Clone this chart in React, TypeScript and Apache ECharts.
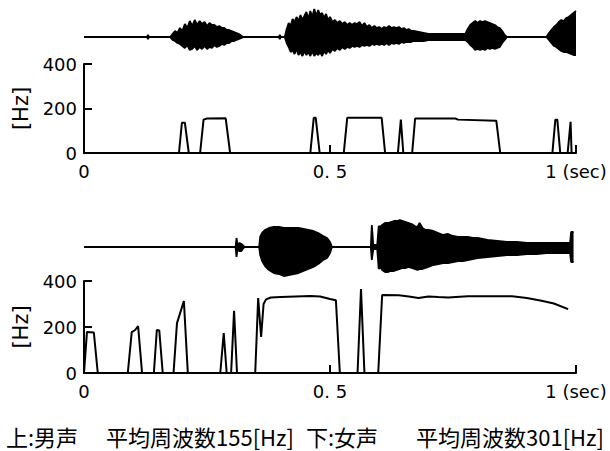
import React, { useEffect, useRef } from "react";
import * as echarts from "echarts";

// time (sec), upper amplitude, lower amplitude (waveform envelope, px-like units)
const maleWave: [number, number, number][] = [
  [0, 0, 0], [0.128, 0, 0], [0.13, 2, 2], [0.132, 0, 0], [0.175, 0, 0],
  [0.18, 3, 3], [0.185, 6, 4], [0.19, 4, 6], [0.195, 9, 7], [0.2, 6, 9],
  [0.205, 13, 11], [0.21, 9, 8], [0.215, 16, 13], [0.22, 11, 12], [0.225, 17, 9],
  [0.23, 12, 13], [0.235, 16, 10], [0.24, 13, 12], [0.245, 15, 9], [0.25, 11, 12],
  [0.255, 14, 10], [0.26, 12, 11], [0.265, 12, 8], [0.27, 10, 10], [0.275, 11, 9],
  [0.28, 9, 7], [0.285, 9, 8], [0.29, 7, 6], [0.295, 7, 6], [0.3, 6, 4],
  [0.305, 5, 4], [0.31, 4, 3], [0.315, 3, 2], [0.32, 1, 1], [0.325, 0, 0],
  [0.396, 0, 0], [0.398, 2, 2], [0.4, 0, 0], [0.408, 0, 0],
  [0.412, 8, 6], [0.416, 14, 10], [0.42, 11, 15], [0.424, 18, 13], [0.428, 15, 17],
  [0.432, 20, 12], [0.436, 16, 18], [0.44, 22, 15], [0.444, 17, 19], [0.448, 21, 14],
  [0.452, 25, 18], [0.456, 18, 15], [0.46, 26, 19], [0.464, 20, 14], [0.468, 28, 19],
  [0.472, 21, 16], [0.476, 27, 18], [0.48, 22, 15], [0.484, 24, 19], [0.488, 19, 14],
  [0.492, 23, 17], [0.496, 17, 13], [0.5, 20, 16], [0.505, 15, 12], [0.51, 17, 14],
  [0.515, 14, 11], [0.52, 16, 13], [0.525, 13, 10], [0.53, 15, 12], [0.535, 12, 10],
  [0.54, 14, 11], [0.545, 12, 9], [0.55, 14, 10], [0.555, 13, 9], [0.56, 15, 10],
  [0.565, 11, 8], [0.57, 14, 9], [0.575, 10, 8], [0.58, 12, 9], [0.585, 9, 7],
  [0.59, 11, 8], [0.595, 9, 7], [0.6, 10, 8], [0.605, 8, 7], [0.61, 10, 8],
  [0.615, 9, 6], [0.62, 11, 8], [0.625, 9, 6], [0.63, 10, 7], [0.635, 9, 6],
  [0.64, 10, 7], [0.645, 8, 5], [0.65, 9, 6], [0.655, 7, 5], [0.66, 8, 5],
  [0.665, 6, 5], [0.67, 6, 4], [0.68, 5, 4], [0.69, 4, 4], [0.7, 3, 3],
  [0.72, 3, 3], [0.74, 3, 3], [0.76, 3, 3], [0.775, 3, 3],
  [0.78, 8, 5], [0.785, 12, 8], [0.79, 14, 10], [0.795, 16, 13], [0.8, 14, 12],
  [0.805, 16, 13], [0.81, 15, 12], [0.815, 16, 13], [0.82, 15, 11], [0.825, 14, 12],
  [0.83, 13, 11], [0.835, 12, 12], [0.84, 10, 11], [0.845, 9, 10], [0.85, 6, 6],
  [0.855, 2, 3], [0.86, 0, 0], [0.94, 0, 0],
  [0.945, 4, 3], [0.95, 7, 6], [0.955, 10, 9], [0.96, 12, 10], [0.965, 15, 12],
  [0.97, 17, 14], [0.975, 16, 15], [0.98, 19, 15], [0.985, 20, 16], [0.99, 22, 17],
  [0.995, 24, 18], [1.0, 26, 18],
];

const femaleWave: [number, number, number][] = [
  [0, 0, 0], [0.308, 0, 0], [0.31, 9, 10], [0.312, 2, 2], [0.316, 4, 4],
  [0.32, 3, 4], [0.324, 1, 1], [0.328, 0, 0], [0.356, 0, 0],
  [0.358, 10, 8], [0.362, 14, 14], [0.368, 17, 19], [0.376, 19, 23], [0.386, 20, 26],
  [0.396, 20, 27], [0.406, 19, 29], [0.416, 19, 28], [0.426, 19, 27], [0.436, 19, 26],
  [0.446, 18, 24], [0.456, 17, 22], [0.466, 16, 20], [0.476, 14, 17], [0.486, 11, 13],
  [0.494, 9, 11], [0.5, 5, 6], [0.504, 0, 0], [0.583, 0, 0],
  [0.585, 22, 13], [0.588, 2, 2], [0.596, 2, 2], [0.599, 21, 22],
  [0.602, 20, 20], [0.606, 22, 23], [0.612, 24, 25], [0.618, 24, 25], [0.624, 25, 24],
  [0.63, 26, 24], [0.636, 26, 23], [0.642, 27, 22], [0.648, 26, 21], [0.654, 25, 21],
  [0.66, 24, 20], [0.666, 23, 21], [0.672, 21, 22], [0.678, 20, 23], [0.682, 24, 22],
  [0.688, 19, 22], [0.694, 17, 21], [0.7, 17, 20], [0.71, 16, 18], [0.72, 14, 17],
  [0.73, 12, 16], [0.74, 13, 16], [0.75, 11, 15], [0.76, 10, 14], [0.77, 10, 14],
  [0.78, 10, 13], [0.79, 9, 12], [0.8, 9, 11], [0.82, 7, 10], [0.84, 6, 9],
  [0.86, 5, 8], [0.88, 5, 8], [0.9, 4, 7], [0.92, 4, 7], [0.94, 4, 6],
  [0.96, 4, 6], [0.98, 4, 6], [0.988, 4, 6], [0.99, 15, 15], [0.995, 15, 15],
];

// time (sec), fundamental frequency (Hz)
const malePitch: [number, number][] = [
  [0, 0], [0.193, 0], [0.199, 136], [0.205, 136], [0.213, 0],
  [0.236, 0], [0.243, 150], [0.25, 155], [0.288, 156], [0.297, 0],
  [0.46, 0], [0.467, 158], [0.471, 158], [0.479, 0],
  [0.528, 0], [0.535, 158], [0.605, 158], [0.612, 0],
  [0.638, 0], [0.644, 150], [0.649, 0],
  [0.667, 0], [0.673, 155], [0.755, 155], [0.76, 150], [0.838, 145], [0.846, 0],
  [0.952, 0], [0.958, 150], [0.962, 150], [0.968, 0],
  [0.983, 0], [0.989, 140], [0.991, 0], [1, 0],
];

const femalePitch: [number, number][] = [
  [0, 0], [0.006, 178], [0.02, 176], [0.028, 0],
  [0.089, 0], [0.097, 178], [0.104, 187], [0.11, 204], [0.118, 0],
  [0.142, 0], [0.148, 187], [0.153, 185], [0.16, 0],
  [0.182, 0], [0.189, 217], [0.203, 313], [0.211, 0],
  [0.277, 0], [0.284, 174], [0.29, 0],
  [0.299, 0], [0.305, 270], [0.311, 0],
  [0.348, 0], [0.354, 326], [0.36, 157], [0.365, 300], [0.37, 320], [0.38, 328],
  [0.4, 330], [0.43, 333], [0.46, 335], [0.48, 333], [0.5, 322], [0.512, 316], [0.52, 0],
  [0.556, 0], [0.563, 365], [0.57, 0],
  [0.598, 0], [0.606, 339], [0.64, 338], [0.66, 333], [0.68, 326], [0.7, 333],
  [0.72, 330], [0.74, 328], [0.78, 334], [0.82, 334], [0.87, 334], [0.9, 326],
  [0.93, 314], [0.955, 302], [0.984, 278],
];

const xTicks = [0, 0.5, 1];
const xTickLabels = ["0", "0. 5", "1 (sec)"];
const yTicks = [0, 200, 400];

const captionParts = ["上:男声", "平均周波数155[Hz]", "下:女声", "平均周波数301[Hz]"];

const FONT = "DejaVu Sans";

export default function App() {
  const ref = useRef<HTMLDivElement>(null);
  useEffect(() => {
    if (!ref.current) return;
    const chart = echarts.init(ref.current, undefined, { renderer: "svg" });
    const L = 84, R = 34;
    const grids = [
      { left: L, right: R, top: 7, height: 60 },
      { left: L, right: R, top: 64, height: 89 },
      { left: L, right: R, top: 217, height: 60 },
      { left: L, right: R, top: 281, height: 92 },
    ];
    const waveX = (i: number) => ({ type: "value", gridIndex: i, min: 0, max: 1, show: false });
    const pitchX = (i: number) => ({
      type: "value", gridIndex: i, min: 0, max: 1, interval: 0.5,
      axisLine: { lineStyle: { color: "#000", width: 2 } },
      axisTick: { inside: true, length: 8, lineStyle: { color: "#000", width: 2 } },
      splitLine: { show: false },
      axisLabel: {
        margin: 9, color: "#000", fontFamily: FONT, fontSize: 18,
        formatter: (v: number) => {
          const k = xTicks.findIndex((t) => Math.abs(t - v) < 1e-9);
          return k >= 0 ? xTickLabels[k] : "";
        },
      },
    });
    const waveY = (i: number) => ({ type: "value", gridIndex: i, min: -30, max: 30, show: false });
    const pitchY = (i: number) => ({
      type: "value", gridIndex: i, min: yTicks[0], max: yTicks[2], interval: 200,
      axisLine: { show: true, lineStyle: { color: "#000", width: 2 } },
      axisTick: { show: true, inside: true, length: 8, lineStyle: { color: "#000", width: 2 } },
      splitLine: { show: false },
      axisLabel: { margin: 7, color: "#000", fontFamily: FONT, fontSize: 18 },
      name: "[Hz]", nameLocation: "middle", nameGap: 52, nameRotate: 90,
      nameTextStyle: { color: "#000", fontFamily: FONT, fontSize: 21 },
    });
    const waveSeries = (idx: number, data: [number, number, number][]) => [
      {
        type: "line", xAxisIndex: idx, yAxisIndex: idx, showSymbol: false, silent: true,
        data: data.map(([t, a]) => [t, a]),
        lineStyle: { color: "#000", width: 1.8 }, areaStyle: { color: "#000", opacity: 1 },
      },
      {
        type: "line", xAxisIndex: idx, yAxisIndex: idx, showSymbol: false, silent: true,
        data: data.map(([t, , b]) => [t, -b]),
        lineStyle: { color: "#000", width: 1.8 }, areaStyle: { color: "#000", opacity: 1 },
      },
    ];
    const pitchSeries = (idx: number, data: [number, number][]) => ({
      type: "line", xAxisIndex: idx, yAxisIndex: idx, showSymbol: false, silent: true,
      data, lineStyle: { color: "#000", width: 2 },
    });
    const capX = [6, 106, 306, 416];
    chart.setOption({
      animation: false,
      backgroundColor: "#fff",
      grid: grids,
      xAxis: [waveX(0), pitchX(1), waveX(2), pitchX(3)],
      yAxis: [waveY(0), pitchY(1), waveY(2), pitchY(3)],
      series: [
        ...waveSeries(0, maleWave),
        pitchSeries(1, malePitch),
        ...waveSeries(2, femaleWave),
        pitchSeries(3, femalePitch),
      ],
      graphic: captionParts.map((s, i) => ({
        type: "text", left: capX[i], top: 425,
        style: { text: s, fill: "#000", font: '22px "Noto Sans CJK JP"' },
      })),
    });
    return () => chart.dispose();
  }, []);
  return (
    <div ref={ref} style={{ position: "absolute", left: 0, top: 0, width: 610, height: 451 }} />
  );
}
